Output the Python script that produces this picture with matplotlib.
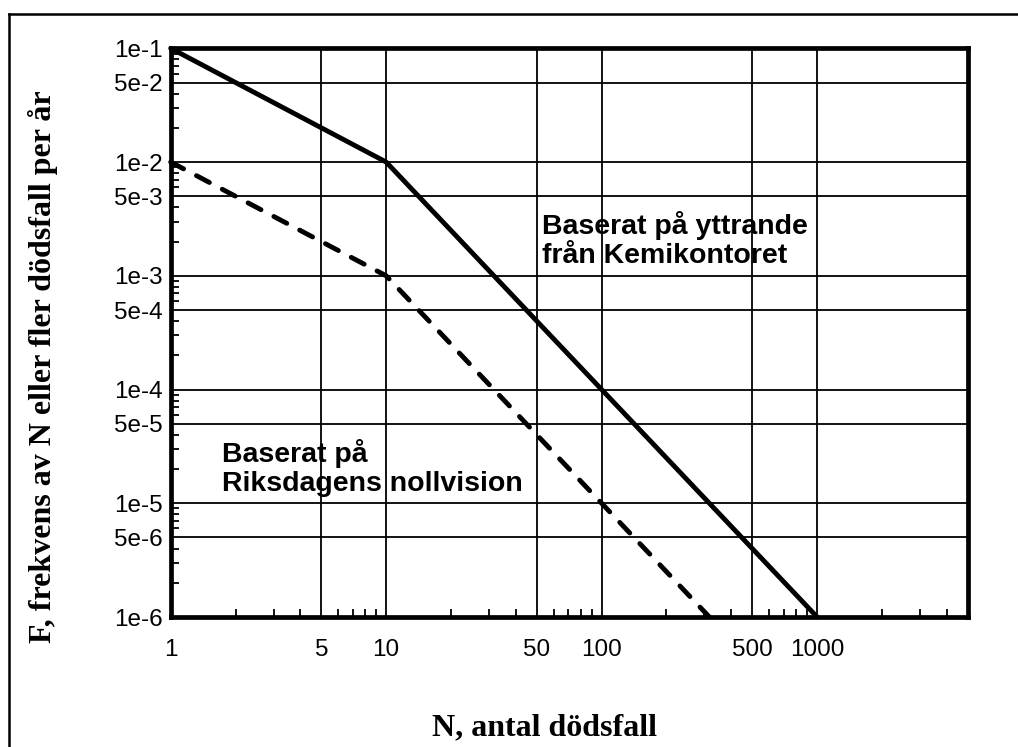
import matplotlib
matplotlib.use("Agg")
import matplotlib.pyplot as plt
from matplotlib.lines import Line2D
from matplotlib.ticker import FixedLocator, FixedFormatter, NullFormatter

# ---- data ----
solid_N = [1, 10, 1000]
solid_F = [1e-1, 1e-2, 1e-6]
dashed_N = [1, 10, 316.2]
dashed_F = [1e-2, 1e-3, 1e-6]

x_ticks = [1, 5, 10, 50, 100, 500, 1000]
x_tick_labels = ["1", "5", "10", "50", "100", "500", "1000"]
y_ticks = [1e-1, 5e-2, 1e-2, 5e-3, 1e-3, 5e-4, 1e-4, 5e-5, 1e-5, 5e-6, 1e-6]
y_tick_labels = ["1e-1", "5e-2", "1e-2", "5e-3", "1e-3", "5e-4", "1e-4", "5e-5",
                 "1e-5", "5e-6", "1e-6"]

label_solid = "Baserat på yttrande\nfrån Kemikontoret"
label_dashed = "Baserat på\nRiksdagens nollvision"
xlabel = "N, antal dödsfall"
ylabel = "F, frekvens av N eller fler dödsfall per år"

W, H = 1018, 747
fig = plt.figure(figsize=(W / 100, H / 100), dpi=100)
ax = fig.add_axes([170.7 / W, 1 - 617 / H, (967.7 - 170.7) / W, (617 - 48.3) / H])
ax.set_xscale("log")
ax.set_yscale("log")
ax.set_xlim(1, 5000)
ax.set_ylim(1e-6, 1e-1)

sans = "Liberation Sans"
serif = "Liberation Serif"

# grid
ax.xaxis.set_major_locator(FixedLocator(x_ticks))
ax.xaxis.set_major_formatter(FixedFormatter(x_tick_labels))
ax.yaxis.set_major_locator(FixedLocator(y_ticks))
ax.yaxis.set_major_formatter(FixedFormatter(y_tick_labels))
ax.grid(True, which="major", color="black", linewidth=1.3)

minx = []
for d in [1, 10, 100, 1000]:
    for m in [2, 3, 4, 6, 7, 8, 9]:
        if d * m < 5000:
            minx.append(d * m)
miny = []
for d in [1e-6, 1e-5, 1e-4, 1e-3, 1e-2]:
    for m in [2, 3, 4, 6, 7, 8, 9]:
        miny.append(d * m)
ax.xaxis.set_minor_locator(FixedLocator(minx))
ax.yaxis.set_minor_locator(FixedLocator(miny))
ax.xaxis.set_minor_formatter(NullFormatter())
ax.yaxis.set_minor_formatter(NullFormatter())

ax.tick_params(which="major", length=0)
ax.tick_params(axis="x", which="major", pad=16, labelsize=17.5)
ax.tick_params(axis="y", which="major", pad=6, labelsize=17.5)
ax.tick_params(which="minor", direction="in", length=5.5, width=1.3, color="black")
for lab in ax.get_xticklabels() + ax.get_yticklabels():
    lab.set_family(sans)

for s in ax.spines.values():
    s.set_linewidth(3.4)
    s.set_zorder(5)

ax.plot(solid_N, solid_F, color="black", linewidth=3.5, solid_capstyle="round",
        solid_joinstyle="round", zorder=4, clip_on=False)
ax.plot(dashed_N, dashed_F, color="black", linewidth=3.5, dashes=(3.0, 3.0),
        dash_capstyle="round", zorder=4, clip_on=False)

fig.text(542 / W, 1 - 240 / H, label_solid, family=sans, fontweight="bold",
         fontsize=20.5, ha="left", va="center", linespacing=1.15)
fig.text(222 / W, 1 - 468 / H, label_dashed, family=sans, fontweight="bold",
         fontsize=20.5, ha="left", va="center", linespacing=1.15)

fig.text(545 / W, 1 - 728 / H, xlabel, family=serif, fontweight="bold",
         fontsize=23, ha="center", va="center")
fig.text(43 / W, 1 - 367 / H, ylabel, family=serif, fontweight="bold",
         fontsize=23, ha="center", va="center", rotation=90)

# figure border (extends past right and bottom edges)
fig.add_artist(Line2D([9 / W, 1.01], [1 - 14 / H, 1 - 14 / H], color="black",
                      linewidth=1.8, transform=fig.transFigure))
fig.add_artist(Line2D([9 / W, 9 / W], [1 - 14 / H, -0.01], color="black",
                      linewidth=1.8, transform=fig.transFigure))

fig.savefig("out.png", dpi=100)
